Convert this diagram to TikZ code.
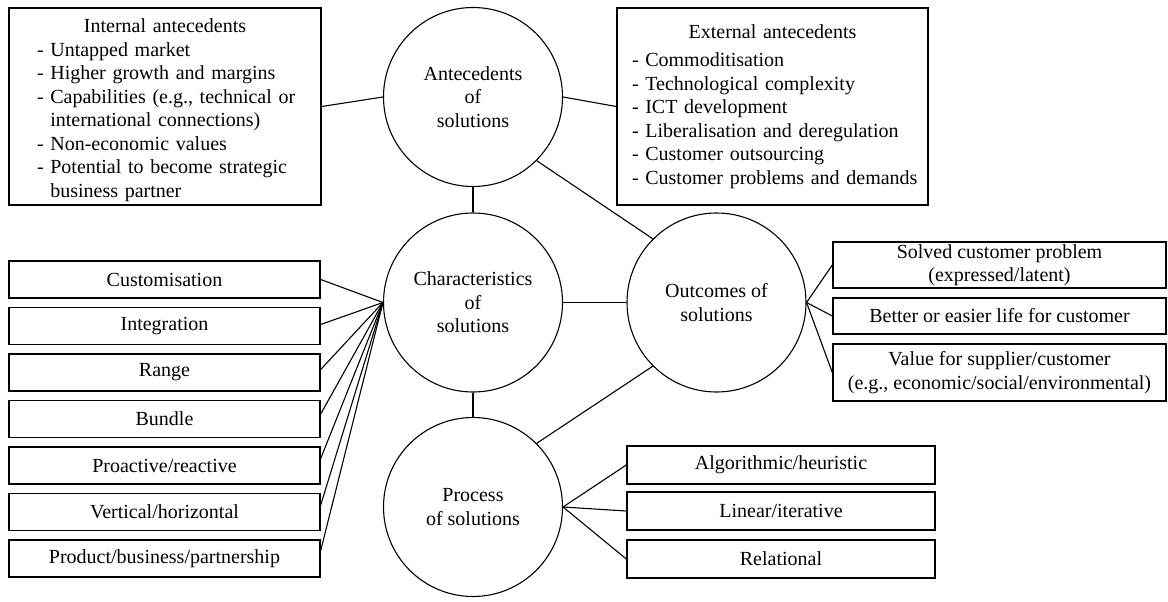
\documentclass[tikz,border=0pt]{standalone}
\usepackage{fontspec}
\setmainfont{Liberation Serif}
\begin{document}
\begin{tikzpicture}[x=1pt,y=-1pt,
  txt/.style={font=\fontsize{20}{23.5}\selectfont},
  ball/.style={txt, circle, draw, line width=1.1pt, minimum size=179pt, inner sep=0pt, align=center},
  box/.style={txt, draw, line width=1.4pt, inner sep=0pt, align=center},
  leftbox/.style={box, minimum width=311pt, minimum height=37pt},
  outbox/.style={box, minimum width=333pt},
  procbox/.style={box, minimum width=308pt, minimum height=38pt},
  link/.style={line width=1.1pt}]

% canvas
\fill[white] (0,0) rectangle (1168,602);
\useasboundingbox (0,0) rectangle (1168,602);

% the four themes
\node[ball] (ante) at (473,97)    {Antecedents\\of\\solutions};
\node[ball] (char) at (473,302.5) {Characteristics\\of\\solutions};
\node[ball] (out)  at (716.5,302.5) {Outcomes of\\solutions};
\node[ball] (proc) at (473,507)   {Process\\of solutions};

% antecedents: frame and list
\node[box, minimum width=312pt, minimum height=197pt] (int) at (165,106.5) {};
\node[txt, inner sep=0pt, text width=256pt, align=left] (inttxt) at (165,110)
{{\centering Internal antecedents\par}
\mbox{- Untapped market}\\
\mbox{- Higher growth and margins}\\
\mbox{- Capabilities (e.g., technical or}\\
\mbox{\hphantom{-\ }international connections)}\\
\mbox{- Non-economic values}\\
\mbox{- Potential to become strategic}\\
\mbox{\hphantom{-\ }business partner}};

\node[box, minimum width=311pt, minimum height=197pt, text width=281pt, align=left] (ext) at (772.5,106.5)
{{\centering External antecedents\par}\vspace{5pt}
\mbox{- Commoditisation}\\
\mbox{- Technological complexity}\\
\mbox{- ICT development}\\
\mbox{- Liberalisation and deregulation}\\
\mbox{- Customer outsourcing}\\
\mbox{- Customer problems and demands}};

% characteristics
\node[leftbox] (c1) at (164.5,279.5) {Customisation};
\node[leftbox] (c2) at (164.5,326)   {Integration};
\node[leftbox] (c3) at (164.5,372.5) {Range};
\node[leftbox] (c4) at (164.5,419)   {Bundle};
\node[leftbox] (c5) at (164.5,465.5) {Proactive/reactive};
\node[leftbox] (c6) at (164.5,512)   {Vertical/horizontal};
\node[leftbox] (c7) at (164.5,558.5) {Product/business/partnership};

% outcomes
\node[outbox, minimum height=46pt] (o1) at (999.5,265)   {Solved customer problem\\(expressed/latent)};
\node[outbox, minimum height=36pt] (o2) at (999.5,316)   {Better or easier life for customer};
\node[outbox, minimum height=57pt] (o3) at (999.5,372.5) {Value for supplier/customer\\(e.g., economic/social/environmental)};

% process
\node[procbox] (p1) at (781,465) {Algorithmic/heuristic};
\node[procbox] (p2) at (781,511) {Linear/iterative};
\node[procbox] (p3) at (781,559) {Relational};

% links between themes
\draw[link] (int.east) -- (ante.west);
\draw[link] (ante.east) -- (ext.west);
\draw[link] (ante.south) -- (char.north);
\draw[link] (char.south) -- (proc.north);
\draw[link] (char.east) -- (out.west);
\draw[link] (ante.south east) -- (out.north west);
\draw[link] (proc.north east) -- (out.south west);

% fan of characteristics
\draw[link] (char.west) -- (c1.east);
\draw[link] (char.west) -- ([yshift=1.5pt]c2.east);
\draw[link] (char.west) -- ([yshift=3pt]c3.east);
\draw[link] (char.west) -- ([yshift=5pt]c4.east);
\draw[link] (char.west) -- ([yshift=7pt]c5.east);
\draw[link] (char.west) -- ([yshift=7pt]c6.east);
\draw[link] (char.west) -- ([yshift=8pt]c7.east);

% fan of outcomes
\draw[link] (out.east) -- (o1.west);
\draw[link] (out.east) -- (o2.west);
\draw[link] (out.east) -- (o3.west);

% fan of process
\draw[link] (proc.east) -- (p1.west);
\draw[link] (proc.east) -- (p2.west);
\draw[link] (proc.east) -- (p3.west);
\end{tikzpicture}
\end{document}
